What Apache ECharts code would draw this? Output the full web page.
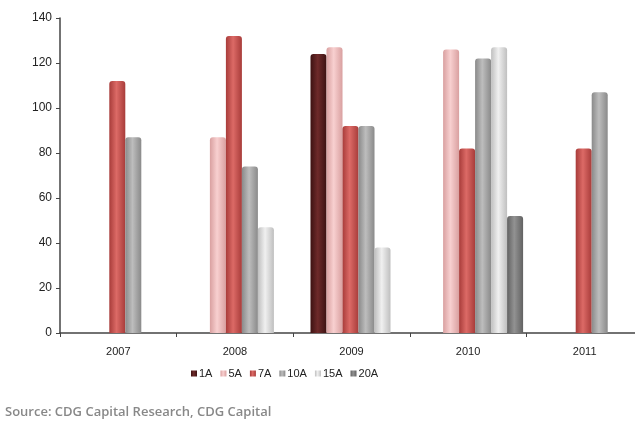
<!DOCTYPE html>
<html>
<head>
<meta charset="utf-8">
<script src="https://cdn.jsdelivr.net/npm/echarts@6/dist/echarts.min.js"></script>
<style>
  html, body { margin: 0; padding: 0; background: #fff; overflow: hidden; }
  #chart { width: 643px; height: 421px; }
</style>
</head>
<body>
<div id="chart"></div>
<script>
// 数据
var years = ['2007', '2008', '2009', '2010', '2011'];
var s1A  = [null, null, 124, null, null];
var s5A  = [null, 87, 127, 126, null];
var s7A  = [112, 132, 92, 82, 82];
var s10A = [87, 74, 92, 122, 107];
var s15A = [null, 47, 38, 127, null];
var s20A = [null, null, null, 52, null];
var yTicks = [0, 20, 40, 60, 80, 100, 120, 140];

var names = ['1A', '5A', '7A', '10A', '15A', '20A'];
var values = [s1A, s5A, s7A, s10A, s15A, s20A];
// 颜色: 边, 中间高光, 主色
var colors = [
    ['#3d1212', '#6e2a2a', '#5a1e1e'],
    ['#d9a0a0', '#f8d0d0', '#f2bcbc'],
    ['#a83c3a', '#dc6a66', '#c9504d'],
    ['#8a8a8a', '#bdbdbd', '#a6a6a6'],
    ['#bfbfbf', '#f0f0f0', '#e0e0e0'],
    ['#626262', '#929292', '#7f7f7f']
];

function cyl(c) {
    return new echarts.graphic.LinearGradient(0, 0, 1, 0, [
        { offset: 0, color: c[0] },
        { offset: 0.45, color: c[1] },
        { offset: 1, color: c[0] }
    ]);
}

var series = [];
// 占位系列, 让柱子整体右移 (模拟原图3D偏移)
series.push({ name: 'pad', type: 'bar', data: [], barWidth: 14, barGap: 0 });
names.forEach(function (n, i) {
    series.push({
        name: n,
        type: 'bar',
        data: values[i],
        barWidth: 16,
        barGap: 0,
        itemStyle: { color: cyl(colors[i]), borderRadius: [3, 3, 0, 0] }
    });
});

var chart = echarts.init(document.getElementById('chart'));
var option = {
    animation: false,
    color: colors.map(function (c) { return c[2]; }),
    grid: { left: 60, right: 0, top: 18, bottom: 88 },
    legend: {
        data: names,
        top: 363,
        left: 186,
        itemWidth: 6,
        itemHeight: 6,
        itemGap: 8,
        icon: 'rect',
        textStyle: { fontFamily: 'Liberation Sans', fontSize: 11, color: '#222', padding: [0, 0, 0, -3] }
    },
    graphic: [{
        type: 'text',
        left: 5,
        top: 406,
        style: {
            text: 'Source: CDG Capital Research, CDG Capital',
            font: '600 13px "Open Sans"',
            fill: '#888'
        }
    }],
    xAxis: {
        type: 'category',
        data: years,
        axisLine: { lineStyle: { color: '#444', width: 1.5 } },
        axisTick: { show: true, length: 4, inside: false, lineStyle: { color: '#444' } },
        axisLabel: { color: '#222', fontFamily: 'Liberation Sans', fontSize: 11, margin: 13 }
    },
    yAxis: {
        type: 'value',
        min: yTicks[0],
        max: yTicks[yTicks.length - 1],
        interval: 20,
        splitLine: { show: false },
        axisLine: { show: true, lineStyle: { color: '#444', width: 1.5 } },
        axisTick: { show: true, length: 4, lineStyle: { color: '#444' } },
        axisLabel: { color: '#222', fontFamily: 'Liberation Sans', fontSize: 12, margin: 8 }
    },
    series: series
};
chart.setOption(option);
</script>
</body>
</html>
